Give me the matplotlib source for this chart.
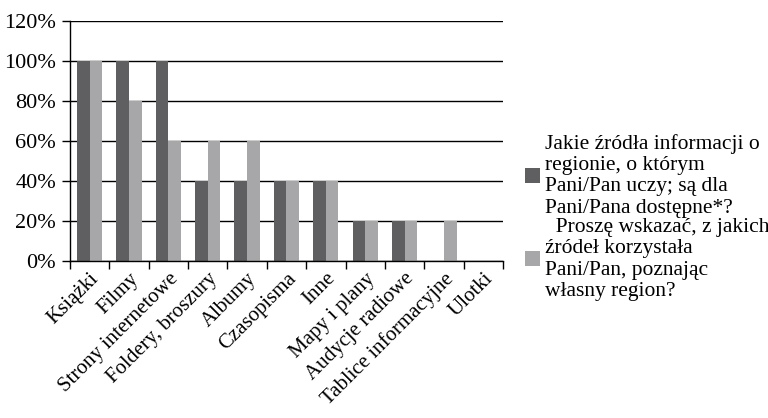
import numpy as np
import matplotlib.pyplot as plt
from matplotlib.ticker import FixedLocator, PercentFormatter

# Categories and the two series (percent)
categories = ['Książki', 'Filmy', 'Strony internetowe', 'Foldery, broszury', 'Albumy',
              'Czasopisma', 'Inne', 'Mapy i plany', 'Audycje radiowe',
              'Tablice informacyjne', 'Ulotki']
available = [100, 100, 100, 40, 40, 40, 40, 20, 20, 0, 0]
used = [100, 80, 60, 60, 60, 40, 40, 20, 20, 20, 0]

label_available = ('Jakie źródła informacji o\nregionie, o którym\n'
                   'Pani/Pan uczy; są dla\nPani/Pana dostępne*?')
label_used = ('  Proszę wskazać, z jakich\nźródeł korzystała\n'
              'Pani/Pan, poznając\nwłasny region?')

plt.rcParams['font.family'] = ['Liberation Serif', 'DejaVu Serif']

fig = plt.figure(figsize=(7.68, 4.18), dpi=100)
ax = fig.add_axes([0.091, 0.376, 0.564, 0.574])

x = np.arange(len(categories))
w = 0.32
ax.bar(x - w / 2, available, w, color='#5f5f61', label=label_available, zorder=2)
ax.bar(x + w / 2, used, w, color='#a7a7a9', label=label_used, zorder=2)

ax.set_xlim(-0.5, len(categories) - 0.5)
ax.set_ylim(0, 120)
ax.set_yticks(np.arange(0, 121, 20))
ax.yaxis.set_major_formatter(PercentFormatter(decimals=0))
ax.grid(axis='y', color='black', linewidth=1.0, zorder=0)

ax.set_xticks(x)
ax.set_xticklabels(categories, rotation=45, ha='right', rotation_mode='anchor')
ax.tick_params(axis='x', which='major', length=0, pad=6, labelsize=15)
ax.xaxis.set_minor_locator(FixedLocator(np.arange(-0.5, len(categories), 1.0)))
ax.tick_params(axis='x', which='minor', length=6, width=1, direction='out')
ax.tick_params(axis='y', length=6, width=1, direction='out', labelsize=16, pad=4)

for s in ['top', 'right']:
    ax.spines[s].set_visible(False)
ax.spines['left'].set_linewidth(1)
ax.spines['bottom'].set_linewidth(1)

leg = fig.legend(loc='upper left', bbox_to_anchor=(0.683, 0.680), frameon=False,
                 fontsize=15.5, handlelength=0.7, handleheight=0.7, handletextpad=0.25,
                 labelspacing=0.0, borderpad=0, borderaxespad=0)
for t in leg.get_texts():
    t.set_linespacing(1.17)

plt.savefig('out.png', dpi=100)
